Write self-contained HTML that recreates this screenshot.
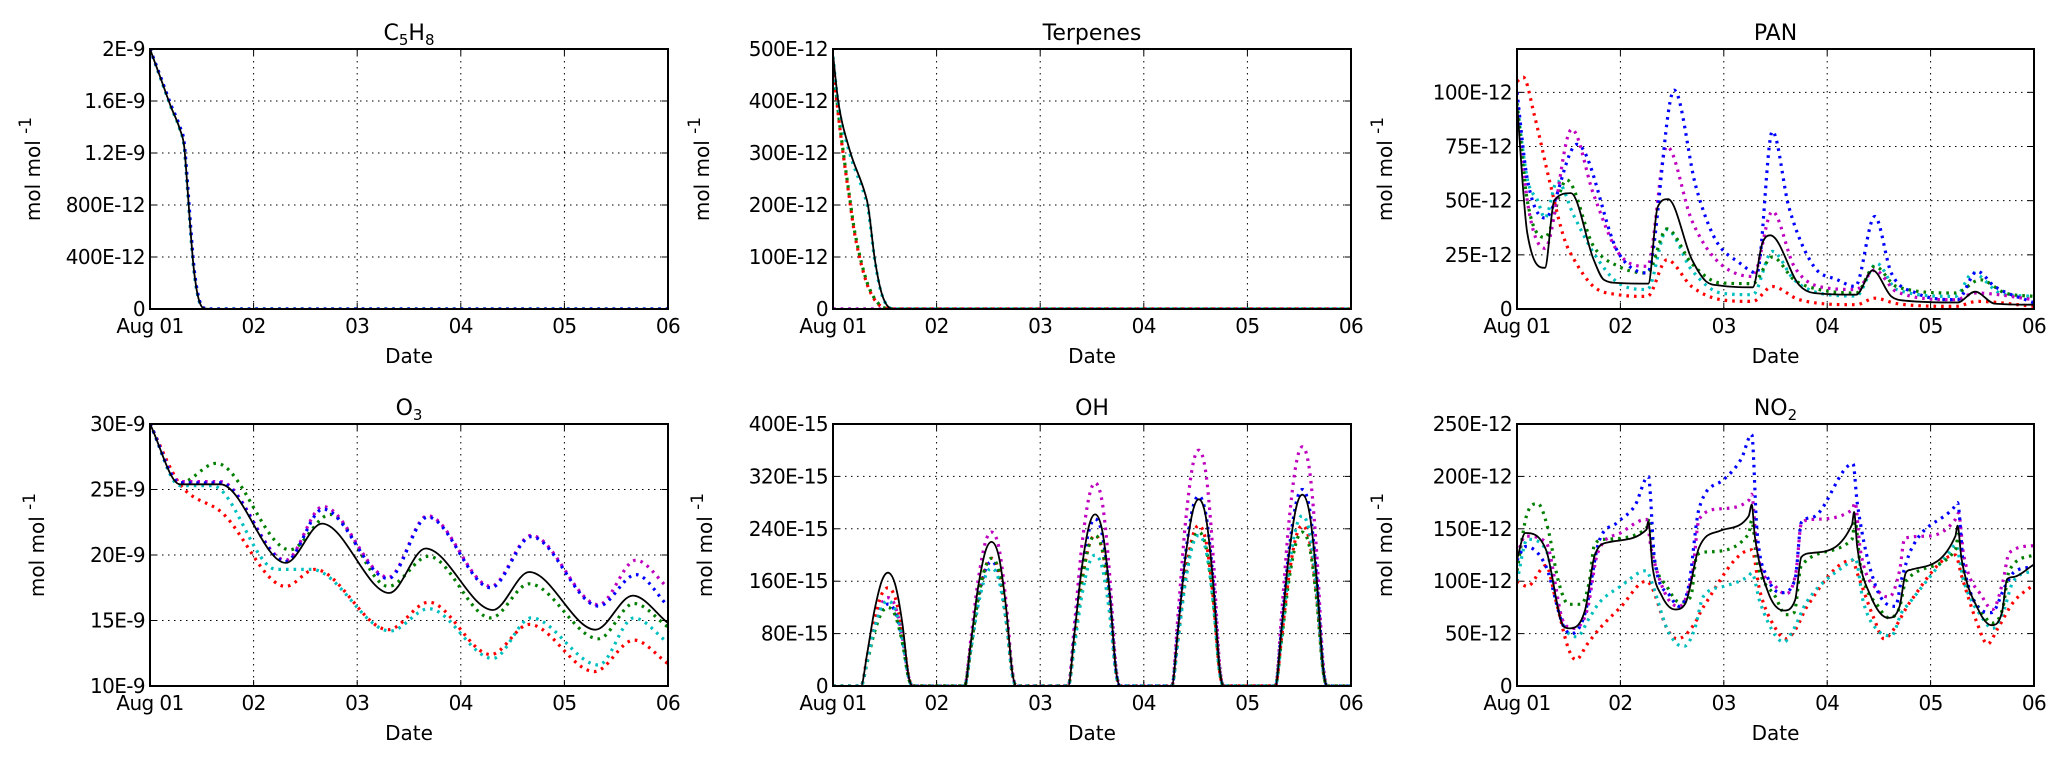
<!DOCTYPE html>
<html><head><meta charset="utf-8"><style>
html,body{margin:0;padding:0;background:#fff}
svg{display:block;font-family:"DejaVu Sans","Liberation Sans",sans-serif}
</style></head><body>
<svg id="fig" width="2067" height="760" viewBox="0 0 2067 760" xmlns="http://www.w3.org/2000/svg"></svg>
<script>
// ---------- shared data ----------
const xTickLabels = ["Aug 01","02","03","04","05","06"];
const seriesColors = {black:"#000",blue:"#0000ff",magenta:"#bf00bf",green:"#007f00",cyan:"#00bfbf",red:"#ff0000"};

// C5H8 (E-12)
const c5h8Ticks = ["0","400E-12","800E-12","1.2E-9","1.6E-9","2E-9"];
const c5h8T = [0,0.1,0.2,0.29,0.33,0.36,0.39,0.42,0.45,0.48,0.52,0.6,5];
const c5h8Black = [2000,1780,1560,1380,1250,950,620,330,150,50,5,0,0];
const c5h8Blue  = [2000,1790,1575,1400,1280,990,660,360,170,60,8,0,0];
const c5h8Cyan  = [2000,1780,1560,1380,1250,950,620,330,150,50,5,0,0];

// Terpenes (E-12)
const terpTicks = ["0","100E-12","200E-12","300E-12","400E-12","500E-12"];
const terpT1 = [0,0.05,0.16,0.31,0.34,0.4,0.46,0.53,0.6,5];
const terpBlack = [490,400,306,222,197,101,37,5,0,0];
const terpCyan  = [485,395,300,215,190,98,35,5,0,0];
const terpT2 = [0,0.05,0.1,0.15,0.2,0.25,0.3,0.35,0.42,0.5,0.6,5];
const terpGreen = [470,380,300,230,160,110,70,40,15,2,0,0];
const terpRed   = [465,375,295,225,155,105,66,37,13,2,0,0];
const terpT3 = [0,5];
const terpBlue = [0,0];

// PAN (E-12)
const panTicks = ["0","25E-12","50E-12","75E-12","100E-12"];
const panBlackT = [0,0.1,0.27,0.36,0.52,0.74,0.84,0.98,1.27,1.36,1.46,1.69,1.83,1.97,2.28,2.37,2.45,2.73,2.87,3.28,3.44,3.62,3.77,4.26,4.43,4.62,5];
const panBlack  = [95,35,19,50,53.5,23,13.5,12,11.7,47,50.7,23,12.7,10.8,10,30,34,11,7.4,6.6,17.8,5.8,3.8,3,8,2.5,2];
const panBlueT = [0,0.1,0.27,0.58,0.98,1.26,1.52,1.73,1.92,2.16,2.32,2.47,2.63,2.87,3.1,3.27,3.46,3.62,3.86,4.26,4.45,4.62,5];
const panBlue  = [100,60,42,76,26,16.6,101,56.5,32,21,16.6,82,47,19.7,13.5,10.4,42.7,16.6,7.4,4.3,17.4,10.4,2.8];
const panMagT = [0,0.1,0.27,0.53,0.74,0.98,1.26,1.45,1.69,1.92,2.28,2.47,2.68,2.92,3.28,3.46,3.67,4.24,4.43,5];
const panMag  = [100,50,28,83,53,26,19.7,75,41,23,15,45,19.7,10.4,9,18,8,4.3,7.4,4.3];
const panGreenT = [0,0.1,0.27,0.48,0.74,0.98,1.26,1.45,1.69,1.97,2.28,2.47,2.68,2.92,3.28,3.46,3.67,4.24,4.48,4.72,5];
const panGreen  = [95,50,33,59.6,29,19.7,16.6,37,21,12,11.7,24,13.5,9,7.4,19.7,10.4,7.4,13.5,7.4,5.8];
const panCyanT = [0,0.1,0.2,0.27,0.39,0.55,0.74,0.98,1.26,1.45,1.69,1.97,2.28,2.47,2.68,2.92,3.28,3.48,3.67,4.24,4.41,4.67,5];
const panCyan  = [95,60,50,42,59,43,26,12,9,36.6,18,7.4,6.6,26.6,13.5,7.4,6,21,9,5.8,16.6,7.4,5.8];
const panRedT = [0,0.06,0.17,0.32,0.46,0.55,0.74,0.98,1.26,1.45,1.69,1.97,2.28,2.47,2.73,3.28,3.46,3.67,4.24,4.45,5];
const panRed  = [105,107,89,58,32,23,10.4,6.6,5.8,22.7,10.4,4.3,3.5,10.4,4.3,2,5,2.5,1.2,3.5,1.2];

// O3 (E-9)
const o3Ticks = ["10E-9","15E-9","20E-9","25E-9","30E-9"];
const o3BlackT = [0,0.29,0.68,1.31,1.66,2.31,2.66,3.31,3.66,4.3,4.66,5];
const o3Black  = [30,25.4,25.4,19.4,22.4,17.1,20.5,15.8,18.7,14.3,16.9,14.8];
const o3BlueT = [0,0.29,0.68,1.31,1.67,2.3,2.68,3.29,3.68,4.33,4.69,5];
const o3Blue  = [30,25.5,25.5,19.5,23.5,18.2,22.9,17.5,21.4,16.1,18.5,16.1];
const o3Mag   = [30,25.6,25.6,19.6,23.7,18.3,23.0,17.6,21.5,16.2,19.6,17.5];
const o3GreenT = [0,0.29,0.64,1.35,1.74,2.3,2.69,3.29,3.66,4.33,4.67,5];
const o3Green  = [30,25.5,27,20.4,23.1,17.6,19.9,15.2,17.8,13.6,16.3,14.5];
const o3CyanT = [0,0.29,0.6,1.22,1.56,2.32,2.69,3.31,3.68,4.33,4.67,5];
const o3Cyan  = [30,25.3,25.3,18.9,18.9,14.2,15.9,12.1,15.2,11.6,15.2,13.3];
const o3RedT = [0,0.29,0.7,1.31,1.59,2.3,2.69,3.29,3.66,4.29,4.67,5];
const o3Red  = [30,25.4,23.2,17.6,18.9,14.3,16.4,12.4,14.7,11.1,13.5,11.7];

// OH (E-15)
const ohTicks = ["0","80E-15","160E-15","240E-15","320E-15","400E-15"];
const ohDays = [0,1,2,3,4];
const ohOffsets = [0.27,0.33,0.4,0.47,0.53,0.6,0.67,0.73,0.77];
const ohBlack = [0,50,115,160,173,155,95,15,0, 0,66,150,205,220,198,121,22,0, 0,79,178,244,262,236,144,26,0, 0,86,194,265,285,257,157,29,0, 0,88,199,272,292,263,161,29,0];
const ohBlue  = [0,38,85,116,125,113,69,13,0, 0,57,129,177,190,171,105,19,0, 0,77,173,237,255,230,140,26,0, 0,87,197,270,290,261,160,29,0, 0,90,204,279,300,270,165,30,0];
const ohMag   = [0,41,92,126,135,122,74,14,0, 0,71,160,219,235,212,129,24,0, 0,93,211,288,310,279,171,31,0, 0,108,245,335,360,324,198,36,0, 0,110,248,339,365,329,201,37,0];
const ohRed   = [0,45,102,140,150,135,83,15,0, 0,59,133,181,195,176,107,20,0, 0,69,156,214,230,207,127,23,0, 0,74,167,228,245,221,135,25,0, 0,74,167,228,245,221,135,25,0];
const ohGreen = [0,36,82,112,120,108,66,12,0, 0,59,133,181,195,176,107,20,0, 0,69,156,214,230,207,127,23,0, 0,71,160,219,235,212,129,24,0, 0,71,160,219,235,212,129,24,0];
const ohCyan  = [0,39,88,121,130,117,72,13,0, 0,54,122,167,180,162,99,18,0, 0,60,136,186,200,180,110,20,0, 0,69,156,214,230,207,127,23,0, 0,78,177,242,260,234,143,26,0];

// NO2 (E-12)
const no2Ticks = ["0","50E-12","100E-12","150E-12","200E-12","250E-12"];
const no2BlackT = [0,0.08,0.28,0.45,0.51,0.66,0.75,0.88,1.25,1.27,1.31,1.4,1.53,1.63,1.76,1.96,2.24,2.27,2.3,2.43,2.58,2.69,2.75,2.86,3.24,3.26,3.29,3.42,3.59,3.7,3.76,3.81,4.24,4.26,4.3,4.46,4.59,4.69,4.74,4.8,5];
const no2Black  = [121,146,130,57,55,73,124,137,149,157,114,86,73,79,132,148,162,173,143,89,72,82,123,127,154,166,133,86,65,76,108,111,143,153,121,73,58,70,102,104,116];
const no2BlueT = [0,0.08,0.28,0.45,0.53,0.66,0.79,0.97,1.14,1.27,1.33,1.48,1.57,1.66,1.76,2.0,2.17,2.27,2.32,2.43,2.56,2.69,2.75,2.86,3.25,3.29,3.47,3.66,3.72,3.81,4.24,4.26,4.32,4.59,4.72,4.8,5];
const no2Blue  = [120,133,114,57,50,70,137,156,172,200,121,86,76,95,169,197,217,240,149,102,89,102,156,161,212,175,95,76,102,130,172,175,114,70,95,108,114];
const no2MagT = [0,0.08,0.28,0.45,0.55,0.68,0.78,1.0,1.25,1.3,1.45,1.57,1.7,1.76,1.96,2.24,2.27,2.32,2.5,2.6,2.7,2.75,2.86,3.24,3.27,3.32,3.5,3.6,3.7,3.75,3.98,4.24,4.27,4.32,4.5,4.6,4.7,4.76,5];
const no2Mag  = [125,143,137,61,55,73,127,146,159,130,85,76,110,159,169,177,183,130,95,88,110,155,159,168,175,130,90,85,110,141,143,159,165,125,85,73,100,127,134];
const no2GreenT = [0,0.1,0.2,0.3,0.4,0.5,0.62,0.7,0.75,0.85,1.25,1.28,1.33,1.45,1.57,1.68,1.74,1.85,2.24,2.27,2.32,2.5,2.6,2.68,2.75,3.24,3.27,3.32,3.5,3.6,3.7,3.76,4.24,4.27,4.32,4.5,4.6,4.7,4.76,5];
const no2Green  = [110,165,174,150,100,78,78,100,135,140,150,160,120,95,80,85,125,128,145,158,120,85,68,70,115,140,157,115,75,65,75,100,130,145,110,70,60,75,110,125];
const no2CyanT = [0,0.1,0.28,0.4,0.5,0.58,0.7,0.8,1.0,1.25,1.3,1.45,1.55,1.62,1.72,1.8,2.0,2.24,2.27,2.35,2.5,2.58,2.68,2.8,3.24,3.27,3.35,3.5,3.62,3.72,3.8,4.2,4.24,4.32,4.5,4.6,4.7,4.8,5];
const no2Cyan  = [100,140,130,75,50,47,65,80,95,110,100,55,40,38,55,85,95,105,108,80,48,42,55,80,120,122,80,52,48,70,80,130,135,100,65,55,70,100,110];
const no2RedT = [0,0.1,0.28,0.38,0.5,0.57,0.68,0.8,1.0,1.25,1.3,1.45,1.55,1.62,1.72,1.8,2.27,2.35,2.5,2.6,2.7,2.8,3.24,3.3,3.45,3.55,3.65,3.8,4.24,4.3,4.45,4.55,4.65,4.8,5];
const no2Red  = [100,95,115,80,35,25,40,55,75,100,95,55,45,48,60,75,130,90,55,45,55,75,120,105,65,45,55,80,125,105,60,40,55,80,97];

// ---------- drawing ----------
const NS = "http://www.w3.org/2000/svg";
const fig = document.getElementById("fig");
function mk(tag, attrs, parent){const e=document.createElementNS(NS,tag);for(const k in attrs)e.setAttribute(k,attrs[k]);(parent||fig).appendChild(e);return e;}

function expandOH(vals){const t=[0],v=[0];ohDays.forEach((d,i)=>{ohOffsets.forEach((o,j)=>{t.push(d+o);v.push(vals[i*ohOffsets.length+j]);});});t.push(5);v.push(0);return [t,v];}

// monotone cubic path (no overshoot)
function monoPath(xs, ys){
  const n=xs.length; if(n<2) return "";
  const d=[],m=new Array(n);
  for(let i=0;i<n-1;i++){const dx=xs[i+1]-xs[i];d.push(dx===0?0:(ys[i+1]-ys[i])/dx);}
  m[0]=d[0]; m[n-1]=d[n-2];
  for(let i=1;i<n-1;i++){ m[i]=(d[i-1]*d[i]<=0)?0:(d[i-1]+d[i])/2; }
  for(let i=0;i<n-1;i++){
    if(d[i]===0){m[i]=0;m[i+1]=0;continue;}
    const a=m[i]/d[i],b=m[i+1]/d[i],s=a*a+b*b;
    if(s>9){const t=3/Math.sqrt(s);m[i]=t*a*d[i];m[i+1]=t*b*d[i];}
  }
  let p="M"+xs[0].toFixed(1)+","+ys[0].toFixed(1);
  for(let i=0;i<n-1;i++){
    const h=(xs[i+1]-xs[i])/3;
    p+="C"+(xs[i]+h).toFixed(1)+","+(ys[i]+m[i]*h).toFixed(1)+" "+(xs[i+1]-h).toFixed(1)+","+(ys[i+1]-m[i+1]*h).toFixed(1)+" "+xs[i+1].toFixed(1)+","+ys[i+1].toFixed(1);
  }
  return p;
}

const FS=20;
function panel(cfg){
  const {id,x0,x1,y0,y1,ymin,ymax,ticks,tickVals,title,ylabelX,series} = cfg;
  const g = mk("g",{});
  
  
  const sx = v => x0 + (v/5)*(x1-x0);
  const sy = v => y1 - (v-ymin)/(ymax-ymin)*(y1-y0);
  for(let d=1; d<5; d++){
    const l=mk("line",{x1:sx(d),x2:sx(d),y1:y0,y2:y1,stroke:"#000","stroke-width":1,"stroke-dasharray":"1.5,4.5"},g);
    
    
  }
  tickVals.forEach((tv,i)=>{
    const y=sy(tv);
    if(tv>ymin && tv<ymax){
      const l=mk("line",{x1:x0,x2:x1,y1:y,y2:y,stroke:"#000","stroke-width":1,"stroke-dasharray":"1.5,4.5"},g);
      
      
    }
    mk("line",{x1:x0,x2:x0+6,y1:y,y2:y,stroke:"#000","stroke-width":1},g);
    mk("line",{x1:x1,x2:x1-6,y1:y,y2:y,stroke:"#000","stroke-width":1},g);
    const t=mk("text",{x:x0-5,y:y+7,"text-anchor":"end","font-size":FS,fill:"#000","letter-spacing":"-0.6"},g);
    t.textContent=ticks[i];
    
    
  });
  xTickLabels.forEach((lab,d)=>{
    const x=sx(d);
    mk("line",{x1:x,x2:x,y1:y1,y2:y1-6,stroke:"#000","stroke-width":1},g);
    mk("line",{x1:x,x2:x,y1:y0,y2:y0+6,stroke:"#000","stroke-width":1},g);
    const t=mk("text",{x:x,y:y1+24,"text-anchor":"middle","font-size":FS,fill:"#000","letter-spacing":"-0.6"},g);
    t.textContent=lab;
    
    
  });
  const cp=mk("clipPath",{id:"clip-"+id},g);
  mk("rect",{x:x0,y:y0,width:x1-x0,height:y1-y0},cp);
  const sg=mk("g",{"clip-path":"url(#clip-"+id+")"},g);
  series.forEach(s=>{
    const d=monoPath(s.t.map(sx), s.v.map(sy));
    const attrs={d:d,fill:"none",stroke:seriesColors[s.c]};
    if(s.c==="black"){attrs["stroke-width"]=1.8;}
    else{attrs["stroke-width"]=3.2;attrs["stroke-dasharray"]="2.6,5";}
    const p=mk("path",attrs,sg);
    
    
  });
  const fr=mk("rect",{x:x0,y:y0,width:x1-x0,height:y1-y0,fill:"none",stroke:"#000","stroke-width":2},g);
  
  
  const tt=mk("text",{x:(x0+x1)/2,y:y0-9,"text-anchor":"middle","font-size":22,fill:"#000"},g);
  
  
  title.forEach(part=>{const ts=mk("tspan",{},tt);ts.textContent=part[0];if(part[1]){ts.setAttribute("font-size","15");ts.setAttribute("dy","5");}else if(tt.childNodes.length>1){ts.setAttribute("dy","-5");}});
  const xl=mk("text",{x:(x0+x1)/2,y:y1+54,"text-anchor":"middle","font-size":FS,fill:"#000"},g);
  xl.textContent="Date";
  
  
  const cy=(y0+y1)/2-10;
  const yl=mk("text",{x:0,y:0,"text-anchor":"middle","font-size":FS,fill:"#000",transform:`translate(${ylabelX},${cy}) rotate(-90)`},g);
  
  
  const a=mk("tspan",{},yl);a.textContent="mol mol ";
  const b=mk("tspan",{dy:-9,"font-size":17},yl);b.textContent=" -1";
}

const TOP=[49,309], BOT=[424,686];
const XC=[[150,668],[833,1351],[1517,2034]];

panel({id:"c5h8",x0:XC[0][0],x1:XC[0][1],y0:TOP[0],y1:TOP[1],ymin:0,ymax:2000,ticks:c5h8Ticks,tickVals:[0,400,800,1200,1600,2000],title:[["C"],["5",1],["H"],["8",1]],ylabelX:40,
  series:[{c:"green",t:c5h8T,v:c5h8Cyan},{c:"cyan",t:c5h8T,v:c5h8Cyan},{c:"blue",t:c5h8T,v:c5h8Blue},{c:"black",t:c5h8T,v:c5h8Black}]});
panel({id:"terpenes",x0:XC[1][0],x1:XC[1][1],y0:TOP[0],y1:TOP[1],ymin:0,ymax:500,ticks:terpTicks,tickVals:[0,100,200,300,400,500],title:[["Terpenes"]],ylabelX:709,
  series:[{c:"blue",t:terpT3,v:terpBlue},{c:"magenta",t:terpT3,v:terpBlue},{c:"red",t:terpT2,v:terpRed},{c:"green",t:terpT2,v:terpGreen},{c:"cyan",t:terpT1,v:terpCyan},{c:"black",t:terpT1,v:terpBlack}]});
panel({id:"pan",x0:XC[2][0],x1:XC[2][1],y0:TOP[0],y1:TOP[1],ymin:0,ymax:120,ticks:panTicks,tickVals:[0,25,50,75,100],title:[["PAN"]],ylabelX:1392,
  series:[{c:"red",t:panRedT,v:panRed},{c:"cyan",t:panCyanT,v:panCyan},{c:"green",t:panGreenT,v:panGreen},{c:"magenta",t:panMagT,v:panMag},{c:"blue",t:panBlueT,v:panBlue},{c:"black",t:panBlackT,v:panBlack}]});
panel({id:"o3",x0:XC[0][0],x1:XC[0][1],y0:BOT[0],y1:BOT[1],ymin:10,ymax:30,ticks:o3Ticks,tickVals:[10,15,20,25,30],title:[["O"],["3",1]],ylabelX:44,
  series:[{c:"red",t:o3RedT,v:o3Red},{c:"cyan",t:o3CyanT,v:o3Cyan},{c:"green",t:o3GreenT,v:o3Green},{c:"magenta",t:o3BlueT,v:o3Mag},{c:"blue",t:o3BlueT,v:o3Blue},{c:"black",t:o3BlackT,v:o3Black}]});
const ohS=[["magenta",ohMag],["blue",ohBlue],["red",ohRed],["green",ohGreen],["cyan",ohCyan],["black",ohBlack]].map(p=>{const e=expandOH(p[1]);return {c:p[0],t:e[0],v:e[1]};});
panel({id:"oh",x0:XC[1][0],x1:XC[1][1],y0:BOT[0],y1:BOT[1],ymin:0,ymax:400,ticks:ohTicks,tickVals:[0,80,160,240,320,400],title:[["OH"]],ylabelX:712,series:ohS});
panel({id:"no2",x0:XC[2][0],x1:XC[2][1],y0:BOT[0],y1:BOT[1],ymin:0,ymax:250,ticks:no2Ticks,tickVals:[0,50,100,150,200,250],title:[["NO"],["2",1]],ylabelX:1392,
  series:[{c:"red",t:no2RedT,v:no2Red},{c:"cyan",t:no2CyanT,v:no2Cyan},{c:"green",t:no2GreenT,v:no2Green},{c:"magenta",t:no2MagT,v:no2Mag},{c:"blue",t:no2BlueT,v:no2Blue},{c:"black",t:no2BlackT,v:no2Black}]});
</script>
</body></html>
